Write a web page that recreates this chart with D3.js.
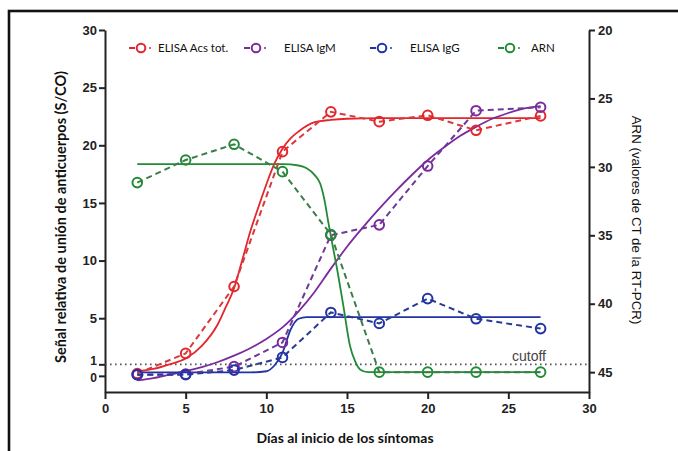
<!DOCTYPE html>
<html><head><meta charset="utf-8">
<script src="https://cdn.jsdelivr.net/npm/d3@7"></script>
<style>body{margin:0;background:#fff}svg{display:block}</style>
</head><body>
<svg id="c" width="678" height="451"></svg>
<script>
// ---- data ----
const days = [2, 5, 8, 11, 14, 17, 20, 23, 27];
const totVals = [0.2, 1.95, 7.75, 19.45, 22.9, 22.05, 22.6, 21.3, 22.55];
const igmVals = [0.1, 0.15, 0.8, 2.9, 12.2, 13.1, 18.2, 23.0, 23.3];
const iggVals = [0.1, 0.1, 0.5, 1.6, 5.5, 4.55, 6.7, 4.95, 4.1];
const arnVals = [31.15, 29.5, 28.35, 30.35, 34.95, 45.0, 45.0, 45.0, 45.0];

// fitted curves
const totFitX = [2, 3, 4, 5, 6, 7, 7.5, 8, 8.5, 9, 9.5, 10, 10.5, 11, 11.5, 12, 13, 14, 15, 17, 20, 27];
const totFitY = [0.4, 0.6, 1.0, 1.5, 2.6, 4.5, 6.0, 7.6, 10.0, 12.5, 14.6, 16.6, 18.4, 19.7, 20.6, 21.2, 22.0, 22.2, 22.3, 22.35, 22.35, 22.35];
const igmFitX = [2, 3, 4, 5, 6, 7, 8, 9, 10, 11, 12, 13, 14, 15, 16, 17, 18, 19, 20, 21, 22, 23, 24, 25, 26, 27];
const igmFitY = [-0.4, -0.2, 0.1, 0.4, 0.75, 1.2, 1.75, 2.4, 3.2, 4.2, 5.6, 7.3, 9.3, 11.2, 12.9, 14.5, 16.0, 17.4, 18.7, 19.8, 20.8, 21.6, 22.3, 22.8, 23.2, 23.4];
const iggFitX = [2, 4, 6, 8, 9, 10, 10.5, 11, 11.5, 12, 12.5, 14, 20, 27];
const iggFitY = [0.3, 0.3, 0.3, 0.3, 0.3, 0.4, 0.9, 2.0, 4.0, 4.95, 5.1, 5.1, 5.1, 5.1];
const arnFitX = [2, 11, 12, 12.5, 13, 13.33, 13.6, 13.85, 14.1, 14.36, 14.78, 15.19, 15.5, 15.81, 16.3, 27];
const arnFitY = [29.8, 29.8, 29.9, 30.1, 30.6, 31.2, 32.4, 34.1, 35.7, 37.3, 40.2, 43.1, 44.2, 44.8, 45.0, 45.0];

const xTicks = [0, 5, 10, 15, 20, 25, 30];
const yLeftTicks = [0, 1, 5, 10, 15, 20, 25, 30];
const yRightTicks = [20, 25, 30, 35, 40, 45];
const cutoff = 1;
const legendLabels = ["ELISA Acs tot.", "ELISA IgM", "ELISA IgG", "ARN"];

// ---- chart ----
const svg = d3.select("#c");
const x = d3.scaleLinear().domain([0, 30]).range([105, 589]);
const yL = d3.scaleLinear().domain([-1.4, 30]).range([392, 30]);
const yR = d3.scaleLinear().domain([20, 46.45]).range([30, 392]);

// frame
svg.append("rect").attr("x", 9).attr("y", 11).attr("width", 700).attr("height", 470)
  .attr("fill", "none").attr("stroke", "#111").attr("stroke-width", 2.6);

const tickFont = "'Liberation Sans', Arial, sans-serif";
function styleAxis(g, fs) {
  g.selectAll("path.domain").attr("stroke", "#222").attr("stroke-width", 2);
  g.selectAll(".tick line").attr("stroke", "#222").attr("stroke-width", 2);
  g.selectAll(".tick text").attr("font-family", tickFont).attr("font-weight", "bold")
    .attr("font-size", fs).attr("fill", "#222");
}
const gx = svg.append("g").attr("transform", "translate(0,392)")
  .call(d3.axisBottom(x).tickValues(xTicks).tickSize(7).tickSizeOuter(0).tickPadding(5));
styleAxis(gx, 13);
const gl = svg.append("g").attr("transform", "translate(105,0)")
  .call(d3.axisLeft(yL).tickValues(yLeftTicks).tickSize(6).tickSizeOuter(0).tickPadding(2));
styleAxis(gl, 13);
gl.selectAll(".tick text").attr("dy", d => d === 1 ? "0.05em" : d === 0 ? "0.45em" : "0.32em");
gl.selectAll(".tick text").filter(d => d <= 1).attr("font-size", 12);
const gr = svg.append("g").attr("transform", "translate(589,0)")
  .call(d3.axisRight(yR).tickValues(yRightTicks).tickSize(6).tickSizeOuter(0).tickPadding(3));
styleAxis(gr, 13);

// titles
const titleFont = "Lato, 'Open Sans', sans-serif";
svg.append("text").attr("transform", "translate(66,217) rotate(-90)")
  .attr("text-anchor", "middle").attr("font-family", titleFont).attr("font-weight", "bold")
  .attr("font-size", 14.5).attr("fill", "#111").text("Señal relativa de unión de anticuerpos (S/CO)");
svg.append("text").attr("transform", "translate(632,220) rotate(90)")
  .attr("text-anchor", "middle").attr("font-family", tickFont).attr("font-weight", "normal")
  .attr("font-size", 13.3).attr("fill", "#111").text("ARN (valores de CT de la RT-PCR)");
svg.append("text").attr("x", 345).attr("y", 443)
  .attr("text-anchor", "middle").attr("font-family", titleFont).attr("font-weight", "bold")
  .attr("font-size", 14).attr("fill", "#111").text("Días al inicio de los síntomas");

// cutoff
svg.append("line").attr("x1", x(0)).attr("x2", x(30)).attr("y1", yL(cutoff)).attr("y2", yL(cutoff))
  .attr("stroke", "#555").attr("stroke-width", 1.6).attr("stroke-dasharray", "1.6,3.4");
svg.append("text").attr("x", 512).attr("y", 361).attr("font-family", tickFont)
  .attr("font-size", 14).attr("fill", "#444").text("cutoff");

const series = [
  {fx: totFitX, fy: totFitY, vals: totVals, s: yL, col: "#e3262c", dcol: "#d83a3c"},
  {fx: igmFitX, fy: igmFitY, vals: igmVals, s: yL, col: "#7a2a9e", dcol: "#6e3a98"},
  {fx: iggFitX, fy: iggFitY, vals: iggVals, s: yL, col: "#2233a6", dcol: "#283c92"},
  {fx: arnFitX, fy: arnFitY, vals: arnVals, s: yR, col: "#238b35", dcol: "#3a7d48"}
];

series.forEach(d => {
  const fit = d.fx.map((v, i) => [v, d.fy[i]]);
  svg.append("path").datum(fit).attr("fill", "none").attr("stroke", d.col).attr("stroke-width", 1.8)
    .attr("d", d3.line().x(p => x(p[0])).y(p => d.s(p[1])).curve(d3.curveMonotoneX));
});
series.forEach(d => {
  const pts = days.map((v, i) => [v, d.vals[i]]);
  svg.append("path").datum(pts).attr("fill", "none").attr("stroke", d.dcol).attr("stroke-width", 2)
    .attr("stroke-dasharray", "6,4")
    .attr("d", d3.line().x(p => x(p[0])).y(p => d.s(p[1])));
  svg.append("g").selectAll("circle").data(pts).join("circle")
    .attr("cx", p => x(p[0])).attr("cy", p => d.s(p[1])).attr("r", 4.8)
    .attr("fill", "none").attr("stroke", d.col).attr("stroke-width", 2);
});

// legend
const legX = [141, 256, 382, 510];
const legTextX = [158, 284, 410, 531];
series.forEach((d, i) => {
  const g = svg.append("g");
  g.append("line").attr("x1", legX[i] - 12).attr("x2", legX[i] - 6).attr("y1", 48).attr("y2", 48)
    .attr("stroke", d.col).attr("stroke-width", 2);
  g.append("circle").attr("cx", legX[i]).attr("cy", 48).attr("r", 4.3)
    .attr("fill", "none").attr("stroke", d.col).attr("stroke-width", 2);
  g.append("circle").attr("cx", legX[i] + 9).attr("cy", 48).attr("r", 1)
    .attr("fill", d.col);
  g.append("text").attr("x", legTextX[i]).attr("y", 52).attr("font-family", titleFont)
    .attr("font-size", 11.5).attr("fill", "#111").text(legendLabels[i]);
});
</script>
</body></html>
